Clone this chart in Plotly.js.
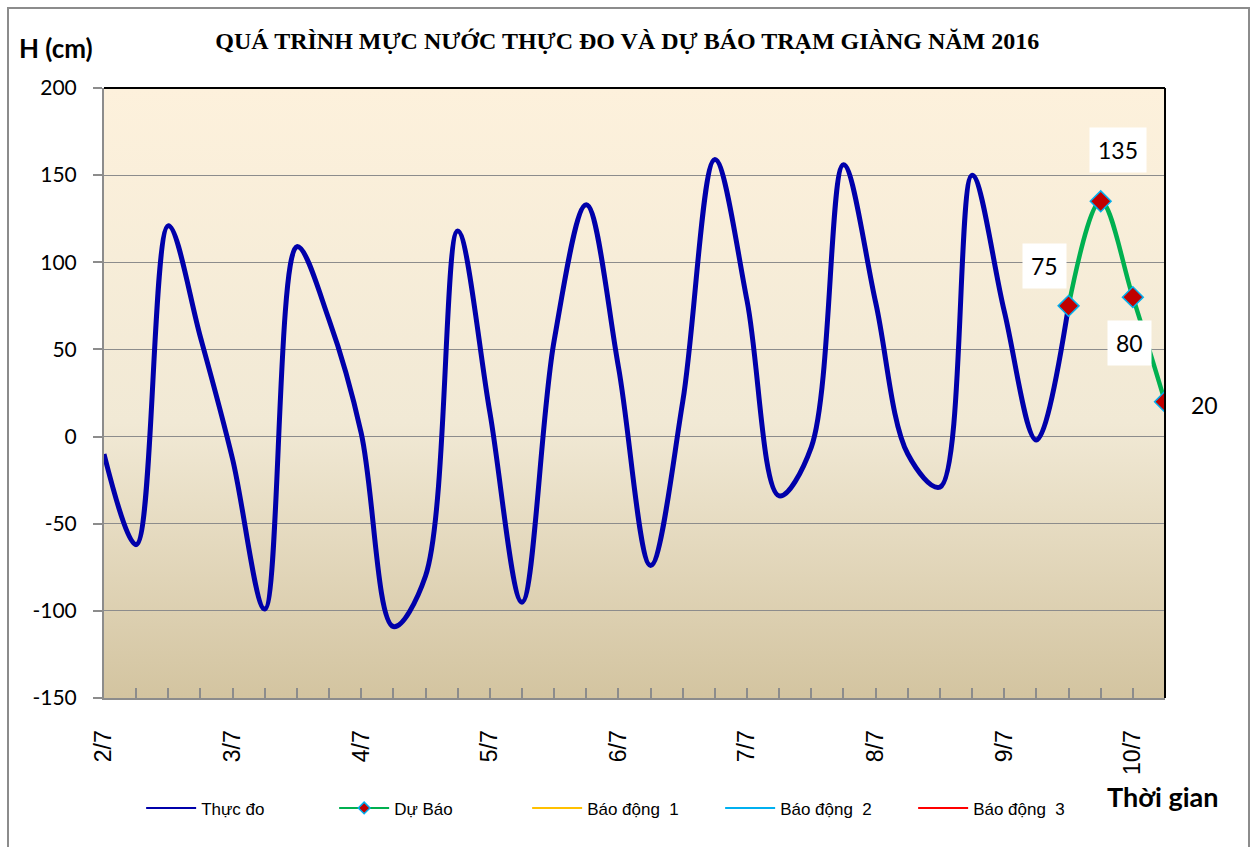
<!DOCTYPE html>
<html>
<head>
<meta charset="utf-8">
<script src="https://cdn.plot.ly/plotly-3.0.1.min.js"></script>
<style>
  html, body { margin: 0; padding: 0; background: #ffffff; }
  #chart { width: 1252px; height: 847px; }
  #frame {
    position: absolute; left: 7px; top: 7px; width: 1239px; height: 850px;
    border: 2px solid #8c8c8c; pointer-events: none;
  }
</style>
</head>
<body>
<div id="chart"></div>
<div id="frame"></div>
<script>
  // mốc ngày trên trục hoành (mỗi ngày 4 obs, 6h một lần)
  const dayLabels = ['2/7', '3/7', '4/7', '5/7', '6/7', '7/7', '8/7', '9/7', '10/7'];
  const obsPerDay = 4;
  const yTicks = [-150, -100, -50, 0, 50, 100, 150, 200];

  // mực nước thực đo (cm)
  const measured = [
    -10, -62, 121, 57, -13, -99, 109, 67, 2, -109, -80, 118, 14, -95, 55, 133,
    40, -74, 20, 159, 78, -34, -6, 156, 77, -10, -29, 150, 72, -2, 75
  ];

  // dự báo (cm), bắt đầu từ obs cuối của thực đo
  const forecastStart = 30;
  const forecast = [75, 135, 80, 20];

  // các cấp báo động nằm ngoài khung trục -> không vẽ lên đồ thị
  const alarm1 = [];
  const alarm2 = [];
  const alarm3 = [];

  const labelShift = [[-24, 40], [17, 51], [-3, -46], [39, -3]];
  const labelBg = ['#ffffff', '#ffffff', '#ffffff', 'rgba(0,0,0,0)'];

  const measuredX = measured.map((_, i) => i);
  const forecastX = forecast.map((_, i) => forecastStart + i);
  const lastIndex = forecastX[forecastX.length - 1];

  const dataTraces = [
    {
      type: 'scatter', mode: 'lines', name: 'Thực đo', showlegend: false,
      x: measuredX, y: measured,
      line: { color: '#0000aa', width: 5, shape: 'spline', smoothing: 1 }
    },
    {
      type: 'scatter', mode: 'lines+markers', name: 'Dự Báo', showlegend: false,
      x: forecastX, y: forecast,
      line: { color: '#00b050', width: 4.5, shape: 'spline', smoothing: 1 },
      marker: { symbol: 'diamond', size: 16, color: '#c00000', line: { color: '#00b0f0', width: 1.5 } }
    }
  ];

  // legend như Excel: nét mảnh
  function legendEntry(name, values, line, marker) {
    const trace = {
      type: 'scatter', mode: 'lines', name,
      x: values.length ? measuredX : [null], y: values.length ? values : [null],
      line, hoverinfo: 'skip'
    };
    if (marker) {
      trace.mode = 'lines+markers';
      trace.marker = marker;
    }
    return trace;
  }

  const legendTraces = [
    legendEntry('Thực đo', [], { color: '#0000aa', width: 2 }),
    legendEntry('Dự Báo', [], { color: '#00b050', width: 2 },
      { symbol: 'diamond', size: 9, color: '#c00000', line: { color: '#00b0f0', width: 1.5 } }),
    legendEntry('Báo động  1', alarm1, { color: '#ffc000', width: 2 }),
    legendEntry('Báo động  2', alarm2, { color: '#00b0f0', width: 2 }),
    legendEntry('Báo động  3', alarm3, { color: '#ff0000', width: 2 })
  ];

  const pointLabels = forecast.map((v, i) => ({
    x: forecastX[i], y: v, xref: 'x', yref: 'y',
    text: String(v), showarrow: false,
    xshift: labelShift[i][0], yshift: labelShift[i][1],
    bgcolor: labelBg[i], borderpad: 8,
    font: { family: 'Lato, sans-serif', size: 23, color: '#000000' }
  }));

  const gradient = 'data:image/svg+xml;charset=utf-8,' + encodeURIComponent(
    '<svg xmlns="http://www.w3.org/2000/svg" width="100" height="100" preserveAspectRatio="none">' +
    '<defs><linearGradient id="g" x1="0" y1="0" x2="0" y2="1">' +
    '<stop offset="0" stop-color="#fdf1dc"/><stop offset="0.55" stop-color="#f1e9d5"/>' +
    '<stop offset="1" stop-color="#d3c4a0"/></linearGradient></defs>' +
    '<rect width="100" height="100" fill="url(#g)"/></svg>');

  const layout = {
    width: 1252, height: 847,
    paper_bgcolor: '#ffffff',
    plot_bgcolor: 'rgba(0,0,0,0)',
    margin: { l: 104, r: 87, t: 88, b: 149 },
    font: { family: 'Lato, sans-serif', color: '#000000' },
    title: {
      text: 'QUÁ TRÌNH MỰC NƯỚC THỰC ĐO VÀ DỰ BÁO TRẠM GIÀNG NĂM 2016',
      font: { family: 'Liberation Serif, serif', size: 24, weight: 'bold', color: '#000000' },
      x: 0.501, xanchor: 'center', y: 0.952, yanchor: 'middle', yref: 'container'
    },
    showlegend: true,
    legend: {
      orientation: 'h', x: 0.035, xanchor: 'left', y: -0.181, yanchor: 'middle',
      font: { family: 'Liberation Sans, Arial, sans-serif', size: 17, color: '#000000' },
      entrywidth: 128, itemwidth: 50, bgcolor: 'rgba(0,0,0,0)'
    },
    xaxis: {
      range: [0, lastIndex], showgrid: false, zeroline: false,
      tickmode: 'array',
      tickvals: dayLabels.map((_, i) => i * obsPerDay),
      ticktext: dayLabels,
      tickangle: -90,
      ticks: 'inside', ticklen: 10, tickwidth: 1.5, tickcolor: '#8c8c8c',
      minor: { dtick: 1, ticks: 'inside', ticklen: 10, tickwidth: 1.5, tickcolor: '#8c8c8c', showgrid: false },
      ticklabelstandoff: 21,
      tickfont: { family: 'Liberation Sans, Arial, sans-serif', size: 23, color: '#000000' },
      showline: true, linecolor: '#8c8c8c', linewidth: 2
    },
    yaxis: {
      range: [yTicks[0], yTicks[yTicks.length - 1]],
      tickmode: 'array', tickvals: yTicks, ticktext: yTicks.map(String),
      showgrid: true, gridcolor: '#8c8c8c', gridwidth: 1.3, zeroline: false,
      ticks: 'outside', ticklen: 9, tickwidth: 1.5, tickcolor: '#8c8c8c',
      ticklabelstandoff: 12,
      tickfont: { family: 'Lato, sans-serif', size: 21, color: '#000000' },
      showline: true, linecolor: '#8c8c8c', linewidth: 2
    },
    images: [{
      source: gradient, xref: 'paper', yref: 'paper', x: 0, y: 1, sizex: 1, sizey: 1,
      xanchor: 'left', yanchor: 'top', sizing: 'stretch', layer: 'below'
    }],
    shapes: [
      { type: 'line', xref: 'paper', yref: 'paper', x0: 0, x1: 1, y0: 1, y1: 1, line: { color: '#000000', width: 2 } },
      { type: 'line', xref: 'paper', yref: 'paper', x0: 1, x1: 1, y0: 0, y1: 1, line: { color: '#000000', width: 2 } }
    ],
    annotations: [
      ...pointLabels,
      {
        text: 'H (cm)', xref: 'paper', yref: 'paper', x: -0.082, xanchor: 'left', y: 1.066, yanchor: 'middle',
        showarrow: false, font: { family: 'Lato, sans-serif', size: 26, weight: 'bold', color: '#000000' }
      },
      {
        text: 'Thời gian', xref: 'paper', yref: 'paper', x: 0.943, xanchor: 'left', y: -0.162, yanchor: 'middle',
        showarrow: false, font: { family: 'Lato, sans-serif', size: 27, weight: 'bold', color: '#000000' }
      }
    ]
  };

  Plotly.newPlot('chart', [...dataTraces, ...legendTraces], layout, { displayModeBar: false, responsive: false });
</script>
</body>
</html>
